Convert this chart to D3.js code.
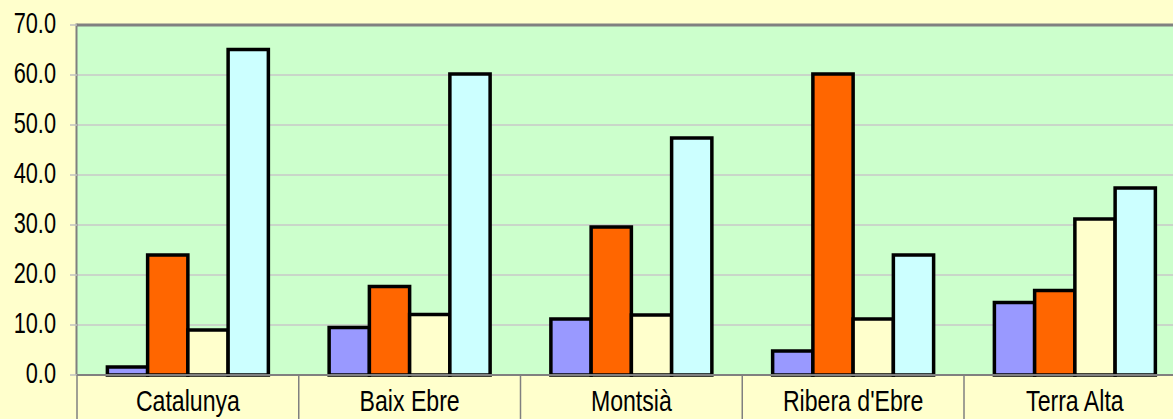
<!DOCTYPE html>
<html>
<head>
<meta charset="utf-8">
<script src="https://cdn.jsdelivr.net/npm/d3@7"></script>
<style>
  html, body { margin: 0; padding: 0; background: #ffffcc; }
  svg { display: block; }
</style>
</head>
<body>
<script>
// categories and series
const categories = ["Catalunya", "Baix Ebre", "Montsià", "Ribera d'Ebre", "Terra Alta"];
const seriesNames = ["s1", "s2", "s3", "s4"];
const s1 = [1.6, 9.5, 11.2, 4.8, 14.5];
const s2 = [24.0, 17.7, 29.6, 60.2, 16.9];
const s3 = [9.0, 12.1, 12.0, 11.2, 31.2];
const s4 = [65.1, 60.2, 47.4, 24.0, 37.4];
const seriesColors = ["#9999ff", "#ff6600", "#ffffcc", "#ccffff"];
const yTicks = [0, 10, 20, 30, 40, 50, 60, 70];

const width = 1173, height = 419;
const plotLeft = 77, plotTop = 25, plotBottom = 375;
const band = 221.75;
const squeeze = 0.77; // labels are drawn condensed

const svg = d3.select("body").append("svg")
    .attr("width", width)
    .attr("height", height);

svg.append("rect").attr("width", width).attr("height", height).attr("fill", "#ffffcc");

const x0 = d3.scaleBand()
    .domain(categories)
    .range([plotLeft, plotLeft + band * categories.length])
    .padding(0);

const x1 = d3.scaleBand()
    .domain(seriesNames)
    .range([0, x0.bandwidth()])
    .paddingInner(0)
    .paddingOuter(0.755);

const y = d3.scaleLinear().domain([0, 70]).range([plotBottom, plotTop]);

// plot area
svg.append("rect")
    .attr("x", plotLeft).attr("y", plotTop)
    .attr("width", width - plotLeft).attr("height", plotBottom - plotTop)
    .attr("fill", "#ccffcc");

// gridlines
svg.append("g")
  .selectAll("line")
  .data(yTicks.filter(d => d > 0 && d < 70))
  .join("line")
    .attr("x1", plotLeft).attr("x2", width)
    .attr("y1", d => y(d)).attr("y2", d => y(d))
    .attr("stroke", "#c8c8c8")
    .attr("stroke-width", 1.5);

// top border and left axis
svg.append("line")
    .attr("x1", plotLeft).attr("x2", width)
    .attr("y1", plotTop).attr("y2", plotTop)
    .attr("stroke", "#808080").attr("stroke-width", 3);
svg.append("line")
    .attr("x1", plotLeft - 0.5).attr("x2", plotLeft - 0.5)
    .attr("y1", plotTop - 1.5).attr("y2", plotBottom)
    .attr("stroke", "#808080").attr("stroke-width", 2);

// y axis ticks + labels
const yAxis = svg.append("g");
yAxis.selectAll("line")
  .data(yTicks)
  .join("line")
    .attr("x1", 70).attr("x2", plotLeft)
    .attr("y1", d => y(d)).attr("y2", d => y(d))
    .attr("stroke", "#c0c0c0").attr("stroke-width", 1.5);
yAxis.selectAll("text")
  .data(yTicks)
  .join("text")
    .attr("transform", d => `translate(56,${y(d) - 2}) scale(0.75,1)`)
    .attr("dy", "0.36em")
    .attr("text-anchor", "end")
    .attr("font-family", "'Liberation Sans', Arial, sans-serif")
    .attr("font-size", 29)
    .attr("fill", "#000")
    .text(d => d.toFixed(1));

// bars
const allSeries = [s1, s2, s3, s4];
const groups = svg.append("g")
  .selectAll("g")
  .data(categories)
  .join("g")
    .attr("transform", d => `translate(${x0(d)},0)`);

groups.selectAll("rect")
  .data((c, i) => seriesNames.map((s, j) => ({ s, v: allSeries[j][i], color: seriesColors[j] })))
  .join("rect")
    .attr("x", d => x1(d.s))
    .attr("y", d => y(d.v))
    .attr("width", x1.bandwidth())
    .attr("height", d => y(0) - y(d.v))
    .attr("fill", d => d.color)
    .attr("stroke", "#000")
    .attr("stroke-width", 3.5);

// category axis
svg.append("line")
    .attr("x1", plotLeft).attr("x2", width)
    .attr("y1", plotBottom).attr("y2", plotBottom)
    .attr("stroke", "#808080").attr("stroke-width", 2);

svg.append("g")
  .selectAll("line")
  .data(categories)
  .join("line")
    .attr("x1", d => x0(d)).attr("x2", d => x0(d))
    .attr("y1", plotBottom).attr("y2", height)
    .attr("stroke", "#808080").attr("stroke-width", 1.5);

svg.append("g")
  .selectAll("text")
  .data(categories)
  .join("text")
    .attr("transform", d => `translate(${x0(d) + x0.bandwidth() / 2},411) scale(${squeeze},1)`)
    .attr("text-anchor", "middle")
    .attr("font-family", "'Liberation Sans', Arial, sans-serif")
    .attr("font-size", 30)
    .attr("fill", "#000")
    .text(d => d);
</script>
</body>
</html>
